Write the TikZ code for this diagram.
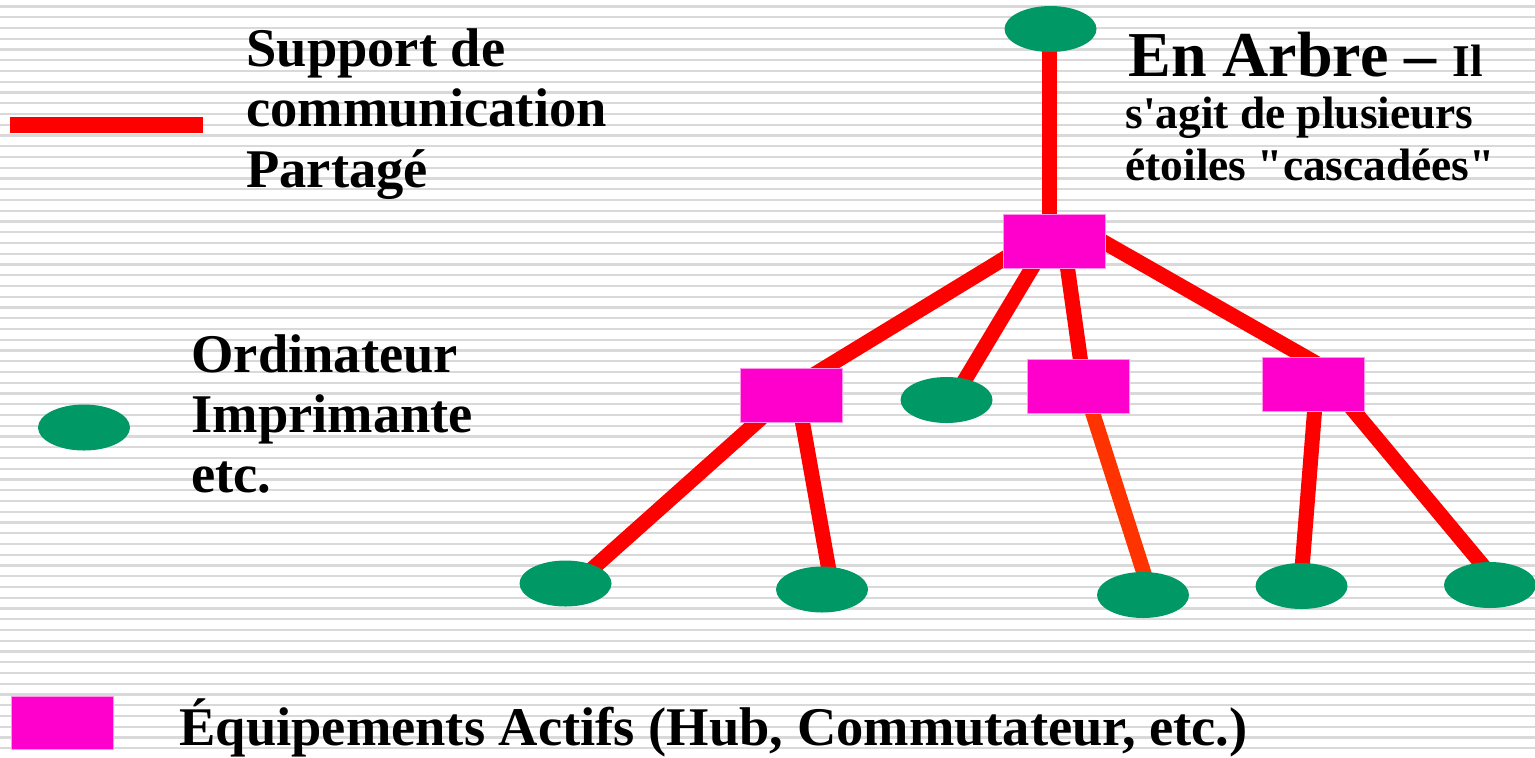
\documentclass[tikz,border=0pt]{standalone}
\usepackage{fontspec}
\setmainfont{Liberation Serif}[Ligatures=TeXOff]
\usetikzlibrary{shapes.geometric,calc}
\pgfdeclarelayer{stripes}
\pgfdeclarelayer{links}
\pgfsetlayers{stripes,links,main}
\definecolor{linkred}{RGB}{255,0,0}
\definecolor{linkorange}{RGB}{255,51,0}
\definecolor{hubmagenta}{RGB}{255,0,204}
\definecolor{hubedge}{RGB}{255,150,235}
\definecolor{hostgreen}{RGB}{0,153,102}
\definecolor{stripegray}{RGB}{217,217,217}

\begin{document}
\begin{tikzpicture}[x=0.5pt,y=-0.5pt,
  host/.style={ellipse,fill=hostgreen,minimum width=46pt,minimum height=23pt,inner sep=0pt},
  hub/.style={rectangle,fill=hubmagenta,draw=hubedge,line width=0.5pt,minimum width=51pt,minimum height=27pt,inner sep=0pt},
  link/.style={linkred,line width=7.5pt},
  bigtext/.style={anchor=base west,inner sep=0pt,align=left,font=\bfseries\fontsize{27.25}{30.25}\selectfont},
  smalltext/.style={anchor=base west,inner sep=0pt,align=left,font=\bfseries\fontsize{22.7}{26}\selectfont},
]
\useasboundingbox (0,0) rectangle (1535,757);

% ruled paper background
\begin{pgfonlayer}{stripes}
  \fill[white] (0,0) rectangle (1535,757);
  \foreach \k in {0,...,69}
    \draw[stripegray,line width=1.1pt] (0,{6.5+10.75*\k}) -- (1535,{6.5+10.75*\k});
\end{pgfonlayer}

% tree: hubs and hosts
\node[host] (root) at (1050.5,29) {};
\node[hub]  (top)  at (1054,241) {};
\node[hub]  (hubL) at (791.5,395) {};
\node[host] (eM)   at (946.5,400) {};
\node[hub]  (hubM) at (1078.5,386.5) {};
\node[hub]  (hubR) at (1313,384) {};
\node[host] (e1)   at (565.5,583.5) {};
\node[host] (e2)   at (822,589.5) {};
\node[host] (e3)   at (1143,595) {};
\node[host] (e4)   at (1301.5,586) {};
\node[host] (e5)   at (1490,585) {};

% shared medium links
\begin{pgfonlayer}{links}
  \draw[link] ($(root.center)+(-1,0)$) -- ($(top.center)+(-4.5,0)$);
  \draw[link] ($(top.center)+(-21,0)$) -- ($(hubL.center)+(-11,0)$);
  \draw[link] ($(top.center)+(-5.8,0)$) -- ($(eM.center)+(6.3,0)$);
  \draw[link] ($(top.center)+(9.7,0)$) -- ($(hubM.center)+(5.7,0)$);
  \draw[link] ($(top.center)+(28.6,-11)$) -- ($(hubR.center)+(39.7,0)$);
  \draw[link] ($(hubL.center)+(-4.4,0)$) -- ($(e1.center)+(10.3,0)$);
  \draw[link] ($(hubL.center)+(6.1,0)$) -- ($(e2.center)+(10.4,0)$);
  \draw[link,linkorange] ($(hubM.center)+(5.7,0)$) -- ($(e3.center)+(7.9,0)$);
  \draw[link] ($(hubR.center)+(3.7,0)$) -- ($(e4.center)+(-0.9,0)$);
  \draw[link] ($(hubR.center)+(18.5,0)$) -- ($(e5.center)+(9.1,0)$);
  % legend stroke
  \coordinate (legA) at (10,125);
  \coordinate (legB) at (203,125);
  \draw[link,line width=8pt] (legA) -- (legB);
\end{pgfonlayer}

% legend symbols
\node[host] (legHost) at (84,427.5) {};
\node[hub,minimum height=26.5pt] (legHub) at (62,722.5) {};

% texts (anchored on the baseline of their last line)
\node[bigtext] (txtSupport) at (246,187) {Support de\\communication\\Partagé};
\node[bigtext,font=\bfseries\fontsize{27.25}{30}\selectfont] (txtHost) at (191,492) {Ordinateur\\Imprimante\\etc.};
\node[bigtext,font=\bfseries\fontsize{32}{36}\selectfont] (title) at (1128,76) {En Arbre – {\fontsize{22.7}{26}\selectfont Il}};
\node[smalltext] (subtitle) at (1125,180) {s'agit de plusieurs\\étoiles "cascadées"};
\node[bigtext] (txtHub) at (179,745) {Équipements Actifs (Hub, Commutateur, etc.)};
\end{tikzpicture}
\end{document}
